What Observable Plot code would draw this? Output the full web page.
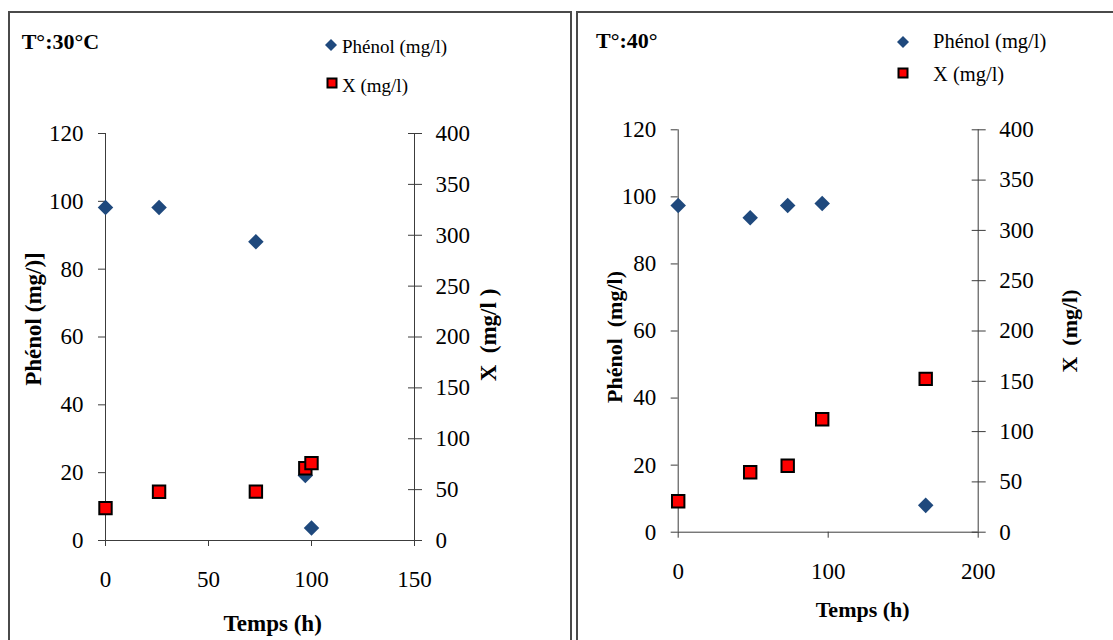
<!DOCTYPE html>
<html>
<head>
<meta charset="utf-8">
<script src="https://cdn.jsdelivr.net/npm/d3@7"></script>
<script src="https://cdn.jsdelivr.net/npm/@observablehq/plot@0.6"></script>
<style>
  html, body { margin: 0; padding: 0; background: #fff; }
  body { width: 1113px; height: 640px; position: relative; overflow: hidden; font-family: "Liberation Serif", "Times New Roman", serif; color: #000; }
  svg text { font-family: "Liberation Serif", "Times New Roman", serif !important; }
  .panel { position: absolute; box-sizing: border-box; border: 2px solid #4a4a4a; }
  .abs { position: absolute; white-space: pre; line-height: 1; }
  .c { transform: translate(-50%, -50%); }
  .rot { transform: translate(-50%, -50%) rotate(-90deg); }
  .b { font-weight: bold; }
  .plotwrap { position: absolute; top: 0; }
  .lg { transform: translate(0, -50%); }
</style>
</head>
<body>
<div class="panel" style="left:8px; top:11px; width:564px; height:700px;"></div>
<div class="panel" style="left:576px; top:11px; width:600px; height:700px;"></div>
<div id="p30" class="plotwrap" style="left:0px;"></div>
<div id="p40" class="plotwrap" style="left:575px;"></div>
<div id="labels"></div>
<script>
// ---- Data ----
// Panel T°:30°C
const temps30 = [0, 26, 73, 97, 100];
const phenol30 = [98.2, 98.2, 88.1, 19.2, 3.7];
const biomass30 = [31.8, 47.9, 48.0, 71.0, 76.0];
// Panel T°:40°
const temps40 = [0, 48, 73, 96, 165];
const phenol40 = [97.4, 93.8, 97.4, 98.0, 8.0];
const biomass40 = [30.8, 59.6, 66.0, 112.3, 152.4];
// Tick labels
const phenolTicks = [0, 20, 40, 60, 80, 100, 120];
const biomassTicks = [0, 50, 100, 150, 200, 250, 300, 350, 400];
const timeTicks30 = [0, 50, 100, 150];
const timeTicks40 = [0, 100, 200];

const PHENOL_MAX = 120, BIOMASS_MAX = 400;
const k = PHENOL_MAX / BIOMASS_MAX; // right axis mapped onto left scale

const axisColor = "#3c3c3c";
const fontSize = 23;

function panel({temps, phenol, biomass, timeTicks, xMax, width, height, mL, mR, mT, mB}) {
  const ph = temps.map((t, i) => ({t, v: phenol[i]}));
  const bx = temps.map((t, i) => ({t, v: biomass[i]}));
  return Plot.plot({
    width, height,
    marginLeft: mL, marginRight: mR, marginTop: mT, marginBottom: mB,
    style: {background: "transparent", fontFamily: "Liberation Serif", fontSize: fontSize + "px", color: "#000", overflow: "visible"},
    x: {domain: [0, xMax]},
    y: {domain: [0, PHENOL_MAX]},
    marks: [
      Plot.ruleX([0], {stroke: axisColor}),
      Plot.ruleX([xMax], {stroke: axisColor}),
      Plot.ruleY([0], {stroke: axisColor}),
      Plot.axisY(phenolTicks, {anchor: "left", tickSize: 7, tickPadding: 15, label: null, stroke: axisColor, fill: "#000", fontSize}),
      Plot.axisY(biomassTicks.map(v => v * k), {anchor: "right", tickSize: 14, dx: -7, fill: "none", label: null, stroke: axisColor}),
      Plot.axisY(biomassTicks.map(v => v * k), {anchor: "right", tickSize: 0, tickPadding: 21, tickFormat: d => Math.round(d / k), label: null, fill: "#000", fontSize}),
      Plot.axisX(timeTicks, {anchor: "bottom", tickSize: 6, tickPadding: 24, label: null, stroke: axisColor, fill: "#000", fontSize}),
      Plot.dot(ph, {x: "t", y: "v", symbol: "diamond2", r: 7.0, fill: "#1F497D", stroke: "none"}),
      Plot.dot(bx, {x: "t", y: d => d.v * k, symbol: "square", r: 7.0, fill: "#FF0000", stroke: "#000", strokeWidth: 2})
    ]
  });
}

document.getElementById("p30").append(panel({
  temps: temps30, phenol: phenol30, biomass: biomass30, timeTicks: timeTicks30, xMax: 150,
  width: 570, height: 640, mL: 105, mR: 156, mT: 133, mB: 100
}));
document.getElementById("p40").append(panel({
  temps: temps40, phenol: phenol40, biomass: biomass40, timeTicks: timeTicks40, xMax: 200,
  width: 538, height: 640, mL: 102.7, mR: 135.3, mT: 129.3, mB: 108.3
}));

// ---- Titles, axis titles, legends ----
const texts = [
  {t: "T°:30°C", x: 21.7, y: 42, cls: "abs b lg", fs: 22},
  {t: "T°:40°", x: 596, y: 41, cls: "abs b lg", fs: 22},
  {t: "Phénol (mg/)]", x: 33, y: 319, cls: "abs b rot", fs: 23},
  {t: "X  (mg/l )", x: 488, y: 335, cls: "abs b rot", fs: 23},
  {t: "Temps (h)", x: 272.7, y: 623, cls: "abs b c", fs: 23},
  {t: "Phénol  (mg/l)", x: 615, y: 337, cls: "abs b rot", fs: 22},
  {t: "X  (mg/l)", x: 1070, y: 331, cls: "abs b rot", fs: 22},
  {t: "Temps (h)", x: 862.7, y: 610, cls: "abs b c", fs: 22},
  {t: "Phénol (mg/l)", x: 342, y: 46, cls: "abs lg", fs: 19},
  {t: "X (mg/l)", x: 342, y: 85, cls: "abs lg", fs: 19},
  {t: "Phénol (mg/l)", x: 933, y: 41, cls: "abs lg", fs: 20.5},
  {t: "X (mg/l)", x: 933, y: 74, cls: "abs lg", fs: 20.5}
];
const L = document.getElementById("labels");
for (const d of texts) {
  const el = document.createElement("div");
  el.className = d.cls;
  el.textContent = d.t;
  el.style.left = d.x + "px";
  el.style.top = d.y + "px";
  el.style.fontSize = d.fs + "px";
  L.append(el);
}
// legend swatches
const swatches = [
  {kind: "diamond", x: 331, y: 45, s: 12},
  {kind: "square", x: 331.7, y: 83, s: 11},
  {kind: "diamond", x: 903, y: 41.7, s: 12},
  {kind: "square", x: 903, y: 73, s: 11}
];
for (const s of swatches) {
  const svg = document.createElementNS("http://www.w3.org/2000/svg", "svg");
  svg.setAttribute("width", 20); svg.setAttribute("height", 20);
  svg.style.position = "absolute";
  svg.style.left = (s.x - 10) + "px"; svg.style.top = (s.y - 10) + "px";
  const h = s.s / 2;
  if (s.kind === "diamond") {
    svg.innerHTML = `<path d="M10,${10 - h}L${10 + h},10L10,${10 + h}L${10 - h},10Z" fill="#1F497D"/>`;
  } else {
    svg.innerHTML = `<rect x="${10 - h + 1}" y="${10 - h + 1}" width="${s.s - 2}" height="${s.s - 2}" fill="#FF0000" stroke="#000" stroke-width="2"/>`;
  }
  L.append(svg);
}
</script>
</body>
</html>
